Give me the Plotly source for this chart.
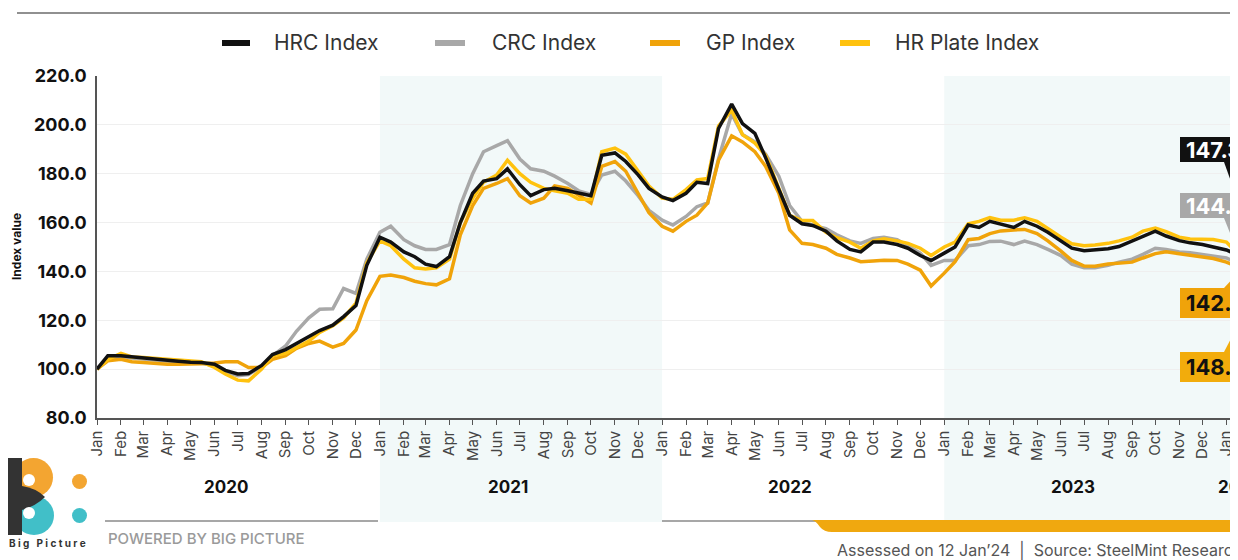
import plotly.graph_objects as go

# ---------------- data (semi-monthly readings, 1st & 15th) ----------------
years = [2020, 2021, 2022, 2023]
dates = [f"{y}-{m:02d}-{d:02d}" for y in years for m in range(1, 13) for d in (1, 15)] + ["2024-01-01", "2024-01-12"]

hrc = [
    100, 105.5, 105.5, 105, 104.5, 104, 103.5, 103.2, 102.8, 102.7, 102, 99.5,
    98, 98.2, 101.5, 106, 108, 110.5, 113.5, 115.8, 118, 121.5, 126, 142.5,
    154, 152, 148, 146, 143, 142, 146, 160, 172, 177, 178, 182,
    175.5, 171, 173.5, 174, 173, 172, 171, 187.5, 188.5, 185, 179.5, 174,
    170.5, 169, 172, 176.5, 176, 198.5, 208.5, 200.5, 196.5, 186.5, 173.5, 163,
    159.5, 158.8, 156.5, 152.5, 149, 148, 152, 152, 151, 149.5, 146.5, 144.5,
    147.5, 150, 159, 158, 160.5, 159.5, 158, 160.5, 158.5, 156, 152.5, 149.5,
    148.5, 148.8, 149.3, 150.2, 152.5, 154.5, 156.5, 154.5, 152.6, 151.7, 151, 150,
    148.8, 147.3,
]
crc = [
    100, 104.5, 105, 104.5, 104, 103.5, 103.2, 103, 102.7, 102.5, 101.4, 99,
    97.3, 97.8, 101, 105.5, 109.5, 115.5, 121, 124.5, 124.7, 133, 131, 145,
    156, 158.5, 153, 150.5, 149, 149, 151, 167, 180, 189, 191.5, 193.5,
    186, 182, 181, 179, 176, 173, 171.5, 179.5, 181, 177, 171, 165,
    161, 159, 162.5, 166.5, 168, 186, 204.5, 196, 193, 188, 179, 167,
    160.5, 158.8, 157.5, 155, 152.5, 151.5, 153.5, 154, 153, 150.5, 147.5, 142.5,
    144.5, 144.5, 150.5, 151, 152.3, 152.4, 151, 152.4, 151, 149, 146.5, 143,
    141.5, 141.5, 142.5, 143.8, 145, 147, 149.5, 149, 148, 147.6, 147, 146.5,
    145.5, 144.0,
]
gp = [
    100, 103.4, 104, 103, 102.7, 102.3, 102, 102, 102, 102.2, 102.5, 103,
    103, 100.7, 100.7, 104, 105.5, 108.5, 110.5, 111.5, 109, 110.5, 116, 128,
    138, 138.5, 137.5, 136, 135, 134.5, 137, 155, 167, 174, 176, 178,
    171, 168, 170, 175, 174, 171, 168, 183, 185, 181, 172, 164,
    158.5, 156.5, 160.5, 163, 168, 185.5, 195.5, 193, 189, 183, 172, 157,
    151.5, 151, 149.5, 147, 145.5, 144, 144.3, 144.6, 144.5, 143, 140.5, 134,
    139.3, 144, 153, 153.5, 155.5, 156.6, 157, 157.2, 155.5, 152.5, 148.3, 144.5,
    142.2, 142.1, 143, 143.4, 143.8, 145.5, 147.3, 148, 147.3, 146.8, 146.2, 145.3,
    143.8, 142.3,
]
hrp = [
    100, 104, 106.5, 105, 104.8, 104.5, 104.1, 103.8, 103.3, 103, 100.7, 98,
    95.5, 95.2, 100, 105.5, 106.5, 109, 111.5, 115, 117.8, 121, 127, 143.5,
    152.5, 150.5, 145, 141.5, 141, 141.5, 145, 160, 170, 176.5, 179.5, 185.5,
    180, 176.5, 174, 173, 172, 169.5, 169.5, 189, 190.5, 188, 181, 175,
    170, 169.5, 173.5, 177.5, 178, 199.5, 206, 196, 192.5, 187.5, 174, 163,
    160.8, 160.8, 156, 153.8, 152, 149.5, 152.5, 153.4, 152.5, 151.5, 149.5, 146.5,
    150, 152, 159.5, 160.5, 162, 161, 161, 162, 160.5, 157.5, 154, 151.3,
    150.5, 150.8, 151.5, 152.5, 154, 156.5, 157.8, 156.3, 154, 153.3, 153.1, 153.1,
    152, 148.5,
]

series_names = ["HRC Index", "CRC Index", "GP Index", "HR Plate Index"]
series_colors = ["#111111", "#A8A8A8", "#F0A30A", "#FFC20E"]
year_labels = ["2020", "2021", "2022", "2023", "2024"]
last_labels = ["147.3", "144.0", "142.3", "148.5"]

# ---------------- geometry helpers ----------------
# the page body adds an 8px margin, so the figure is offset by -8px
OFF = 8
FW, FH = 1238 - OFF, 560 - OFF
L, R, T, B = 97 - OFF, 1238 - OFF, 76 - OFF, 418 - OFF
FONT = "Inter, Open Sans, sans-serif"


def px(x):
    # x given in reference-picture pixels
    return (x - OFF - L) / (R - L)


def py(y):
    return (B - (y - OFF)) / (B - T)


def P(x, y):
    return f"{px(x):.5f},{py(y):.5f}"


fig = go.Figure()
data_map = {"HRC Index": hrc, "CRC Index": crc, "GP Index": gp, "HR Plate Index": hrp}
for name in ["CRC Index", "GP Index", "HR Plate Index", "HRC Index"]:
    c = series_colors[series_names.index(name)]
    fig.add_trace(go.Scatter(x=dates, y=data_map[name], mode="lines", name=name,
                             line=dict(color=c, width=3.5), showlegend=False,
                             hoverinfo="skip"))

shapes = []
annotations = []

# shaded year bands
for x0, x1 in [("2021-01-01", "2022-01-01"), ("2023-01-01", "2024-03-01")]:
    shapes.append(dict(type="rect", xref="x", yref="paper", x0=x0, x1=x1,
                       y0=py(522), y1=1, fillcolor="#F2F9F9", line=dict(width=0),
                       layer="below"))

# top rule and green logo fragment
shapes.append(dict(type="line", xref="paper", yref="paper", x0=px(17), x1=px(1240),
                   y0=py(13), y1=py(13), line=dict(color="#6b6b6b", width=1.5)))
shapes.append(dict(type="circle", xref="paper", yref="paper", x0=px(32), x1=px(72),
                   y0=py(-36), y1=py(4), fillcolor="#2BA84A", line=dict(width=0)))

# manual legend
leg_items = [(222, 250, 272), (435, 465, 490), (650, 680, 704), (840, 870, 893)]
for (lx0, lx1, tx), name, c in zip(leg_items, series_names, series_colors):
    shapes.append(dict(type="line", xref="paper", yref="paper", x0=px(lx0), x1=px(lx1),
                       y0=py(43), y1=py(43), line=dict(color=c, width=6)))
    annotations.append(dict(text=name, xref="paper", yref="paper", x=px(tx), y=py(43),
                            xanchor="left", yanchor="middle", showarrow=False,
                            font=dict(family=FONT, size=21, color="#333")))

# year labels
for lbl in year_labels[:4]:
    annotations.append(dict(text=lbl, xref="x", yref="paper", x=f"{lbl}-06-16", y=py(487),
                            xanchor="center", yanchor="middle", showarrow=False,
                            font=dict(family=FONT, size=17, color="#111", weight="bold")))
annotations.append(dict(text=year_labels[4], xref="paper", yref="paper", x=px(1240), y=py(487),
                        xanchor="center", yanchor="middle", showarrow=False,
                        font=dict(family=FONT, size=17, color="#111", weight="bold")))

# y axis title
annotations.append(dict(text="Index value", xref="paper", yref="paper", x=px(16), y=py(247),
                        textangle=-90, xanchor="center", yanchor="middle", showarrow=False,
                        font=dict(family=FONT, size=12, color="#111", weight="bold")))

# end-value call-outs
boxes = [
    (137, 162, "#111111", "#ffffff", "down", 190),
    (193, 218, "#A8A8A8", "#ffffff", "down", 243),
    (288, 318, "#F0A30A", "#111111", "up", 277),
    (352, 382, "#F2AC0C", "#111111", "up", 333),
]
for (y0, y1, bg, fg, d, tip), lbl in zip(boxes, last_labels):
    shapes.append(dict(type="rect", xref="paper", yref="paper", x0=px(1180), x1=px(1260),
                       y0=py(y1), y1=py(y0), fillcolor=bg, line=dict(width=0)))
    if d == "down":
        path = f"M{P(1224, y1)} L{P(1240, y1)} L{P(1234, tip)} Z"
    else:
        path = f"M{P(1224, y0)} L{P(1240, y0)} L{P(1234, tip)} Z"
    shapes.append(dict(type="path", xref="paper", yref="paper", path=path,
                       fillcolor=bg, line=dict(width=0)))
    annotations.append(dict(text=lbl, xref="paper", yref="paper", x=px(1184), y=py((y0 + y1) / 2),
                            xanchor="left", yanchor="middle", showarrow=False,
                            font=dict(family=FONT, size=22, color=fg, weight="bold")))

# footer rules
shapes.append(dict(type="line", xref="paper", yref="paper", x0=px(105), x1=px(378),
                   y0=py(521), y1=py(521), line=dict(color="#8a8a8a", width=1.5)))
shapes.append(dict(type="line", xref="paper", yref="paper", x0=px(662), x1=px(816),
                   y0=py(521), y1=py(521), line=dict(color="#8a8a8a", width=1.5)))
shapes.append(dict(type="path", xref="paper", yref="paper",
                   path=(f"M{P(812, 520)} L{P(1245, 520)} L{P(1245, 532)} L{P(832, 532)} "
                         f"Q{P(824, 532)} {P(820, 527)} Q{P(816, 521)} {P(812, 520)} Z"),
                   fillcolor="#F0A80F", line=dict(width=0)))

# Big Picture logo
shapes += [
    dict(type="circle", xref="paper", yref="paper", x0=px(14), x1=px(53), y0=py(497), y1=py(458),
         fillcolor="#F3A531", line=dict(width=0)),
    dict(type="circle", xref="paper", yref="paper", x0=px(14), x1=px(54), y0=py(535), y1=py(496),
         fillcolor="#41BFC8", line=dict(width=0)),
    dict(type="rect", xref="paper", yref="paper", x0=px(6), x1=px(22), y0=py(535), y1=py(458),
         fillcolor="#333333", line=dict(width=0)),
    dict(type="path", xref="paper", yref="paper",
         path=f"M{P(22, 486)} Q{P(36, 488)} {P(45, 497)} Q{P(36, 506)} {P(22, 510)} Z",
         fillcolor="#333333", line=dict(width=0)),
    dict(type="circle", xref="paper", yref="paper", x0=px(23), x1=px(35), y0=py(486), y1=py(474),
         fillcolor="#ffffff", line=dict(width=0)),
    dict(type="circle", xref="paper", yref="paper", x0=px(23), x1=px(35), y0=py(519), y1=py(507),
         fillcolor="#ffffff", line=dict(width=0)),
    dict(type="circle", xref="paper", yref="paper", x0=px(72), x1=px(87), y0=py(489), y1=py(474),
         fillcolor="#F3A531", line=dict(width=0)),
    dict(type="circle", xref="paper", yref="paper", x0=px(72), x1=px(87), y0=py(523), y1=py(508),
         fillcolor="#41BFC8", line=dict(width=0)),
]
annotations.append(dict(text="B i g   P i c t u r e", xref="paper", yref="paper", x=px(47), y=py(543),
                        xanchor="center", yanchor="middle", showarrow=False,
                        font=dict(family=FONT, size=10, color="#333", weight="bold")))
annotations.append(dict(text="POWERED BY BIG PICTURE", xref="paper", yref="paper", x=px(106), y=py(538),
                        xanchor="left", yanchor="middle", showarrow=False,
                        font=dict(family=FONT, size=15, color="#9a9a9a", weight=500)))
annotations.append(dict(text="Assessed on 12 Jan\u201924  |  Source: SteelMint Research", xref="paper",
                        yref="paper", x=px(835), y=py(550), xanchor="left", yanchor="middle",
                        showarrow=False, font=dict(family=FONT, size=16, color="#555")))

fig.update_layout(
    width=FW, height=FH,
    margin=dict(l=L, r=FW - R, t=T, b=FH - B),
    paper_bgcolor="white", plot_bgcolor="rgba(0,0,0,0)",
    shapes=shapes, annotations=annotations, showlegend=False,
    font=dict(family=FONT),
)
fig.update_xaxes(
    type="date", range=["2020-01-01", "2024-01-16"], tick0="2020-01-01", dtick="M1",
    tickformat="%b", tickangle=-90, ticks="outside", ticklen=5, tickcolor="#555",
    tickfont=dict(family=FONT, size=15, color="#444"), showline=True, linecolor="#555",
    linewidth=1.5, showgrid=False, zeroline=False, automargin=False,
)
fig.update_yaxes(
    range=[80, 220], dtick=20, tick0=80, tickformat=".1f", ticks="outside", ticklen=5,
    tickcolor="rgba(0,0,0,0)", tickfont=dict(family=FONT, size=18, color="#111", weight="bold"),
    showline=True, linecolor="#555", linewidth=1.5, showgrid=True, gridcolor="#EFEFEF",
    zeroline=False, automargin=False,
)

fig.write_html("out.html")
